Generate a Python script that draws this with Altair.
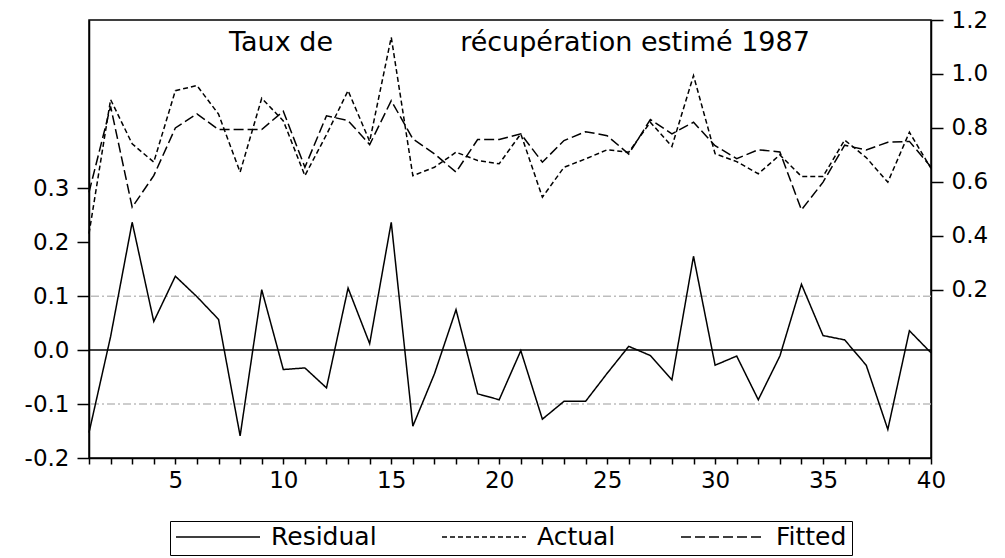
import altair as alt
import pandas as pd

# ---- data ----
obs = list(range(1, 41))
residual = [-0.153, 0.025, 0.237, 0.053, 0.137, 0.099, 0.057, -0.159, 0.112, -0.036,
            -0.033, -0.070, 0.115, 0.012, 0.237, -0.141, -0.044, 0.075, -0.081, -0.092,
            -0.001, -0.128, -0.095, -0.095, -0.043, 0.007, -0.010, -0.055, 0.174, -0.028,
            -0.011, -0.092, -0.011, 0.122, 0.027, 0.019, -0.028, -0.147, 0.036, -0.005]
actual = [0.408, 0.905, 0.741, 0.673, 0.938, 0.957, 0.851, 0.636, 0.910, 0.826,
          0.623, 0.775, 0.938, 0.750, 1.136, 0.623, 0.654, 0.710, 0.679, 0.667,
          0.778, 0.543, 0.654, 0.685, 0.719, 0.710, 0.821, 0.731, 0.994, 0.704,
          0.675, 0.630, 0.700, 0.620, 0.620, 0.755, 0.690, 0.599, 0.784, 0.650]
fitted = [0.561, 0.880, 0.506, 0.623, 0.800, 0.852, 0.794, 0.794, 0.794, 0.862,
          0.654, 0.845, 0.827, 0.738, 0.901, 0.759, 0.704, 0.636, 0.757, 0.757,
          0.778, 0.673, 0.753, 0.786, 0.771, 0.703, 0.831, 0.778, 0.821, 0.734,
          0.686, 0.719, 0.711, 0.496, 0.599, 0.736, 0.718, 0.747, 0.750, 0.655]

series_names = ["Residual", "Actual", "Fitted"]
band_values = [-0.1, 0.1]
zero_value = [0.0]
left_ticks = [-0.2, -0.1, 0.0, 0.1, 0.2, 0.3]
right_ticks = [0.2, 0.4, 0.6, 0.8, 1.0, 1.2]
title_left = "Taux de"
title_right = "récupération estimé 1987"

FONT = "DejaVu Sans"

res_df = pd.DataFrame({"obs": obs, "value": residual, "series": "Residual"})
af_df = pd.concat([
    pd.DataFrame({"obs": obs, "value": actual, "series": "Actual"}),
    pd.DataFrame({"obs": obs, "value": fitted, "series": "Fitted"}),
])
band_df = pd.DataFrame({"value": band_values})
zero_df = pd.DataFrame({"value": zero_value})

x_enc = alt.X(
    "obs:Q",
    scale=alt.Scale(domain=[1, 40], nice=False, zero=False),
    axis=alt.Axis(values=obs, labelExpr="datum.value % 5 == 0 ? datum.label : ''",
                  tickSize=6, labelPadding=5, title=None, grid=False, labelFlush=False),
)

left_scale = alt.Scale(domain=[-0.2, 0.612], nice=False, zero=False)
right_scale = alt.Scale(domain=[-0.4237, 1.2], nice=False, zero=False)

minus_fix = "replace(format(datum.value, '.1f'), '\u2212', '-')"

left_axis = alt.Axis(orient="left", values=left_ticks, labelExpr=minus_fix,
                     tickSize=12, labelPadding=8, title=None, grid=False, labelFlush=False)
right_axis = alt.Axis(orient="right", values=right_ticks, labelExpr=minus_fix,
                      tickSize=12, labelPadding=8, title=None, grid=False, labelFlush=False)

dash_enc = alt.StrokeDash(
    "series:N",
    scale=alt.Scale(domain=series_names, range=[[1, 0], [5, 3], [10, 4]]),
    legend=alt.Legend(
        title=None, orient="none", legendX=81, legendY=501, direction="horizontal",
        symbolType="stroke", symbolSize=7056, symbolStrokeWidth=1.5,
        symbolStrokeColor="black", labelFont=FONT, labelFontSize=25,
        labelColor="black", labelOffset=10, columnPadding=64, padding=5,
        strokeColor="black", fillColor="white", clipHeight=22, labelLimit=400,
    ),
)

bands = alt.Chart(band_df).mark_rule(
    color="#bdbdbd", strokeWidth=1.5, strokeDash=[8, 3, 2, 3]
).encode(y=alt.Y("value:Q", scale=left_scale, axis=left_axis))

zero = alt.Chart(zero_df).mark_rule(color="black", strokeWidth=1.5).encode(
    y=alt.Y("value:Q", scale=left_scale, axis=left_axis)
)

res_line = alt.Chart(res_df).mark_line(color="black", strokeWidth=1.5).encode(
    x=x_enc,
    y=alt.Y("value:Q", scale=left_scale, axis=left_axis),
    strokeDash=dash_enc,
)

left = alt.layer(bands, zero, res_line)

af_line = alt.Chart(af_df).mark_line(color="black", strokeWidth=1.5).encode(
    x=x_enc,
    y=alt.Y("value:Q", scale=right_scale, axis=right_axis),
    strokeDash=dash_enc,
    detail="series:N",
)

t1 = alt.Chart(pd.DataFrame({"t": [title_left]})).mark_text(
    font=FONT, fontSize=27, color="black", align="center", baseline="alphabetic"
).encode(text="t:N", x=alt.value(192), y=alt.value(31))

t2 = alt.Chart(pd.DataFrame({"t": [title_right]})).mark_text(
    font=FONT, fontSize=27, color="black", align="center", baseline="alphabetic"
).encode(text="t:N", x=alt.value(546), y=alt.value(31))

chart = alt.layer(left, af_line, t1, t2).resolve_scale(y="independent").properties(
    width=842, height=438,
    padding={"left": 81, "top": 12, "right": 66, "bottom": 100},
    autosize=alt.AutoSizeParams(type="none"),
    background="white",
).configure_view(
    stroke="black", strokeWidth=1.5
).configure_axis(
    domainColor="black", domainWidth=1.5, tickColor="black", tickWidth=1.5,
    labelColor="black", labelFont=FONT, labelFontSize=23,
)

chart.save("out.html", embed_options={"renderer": "svg", "actions": False})
